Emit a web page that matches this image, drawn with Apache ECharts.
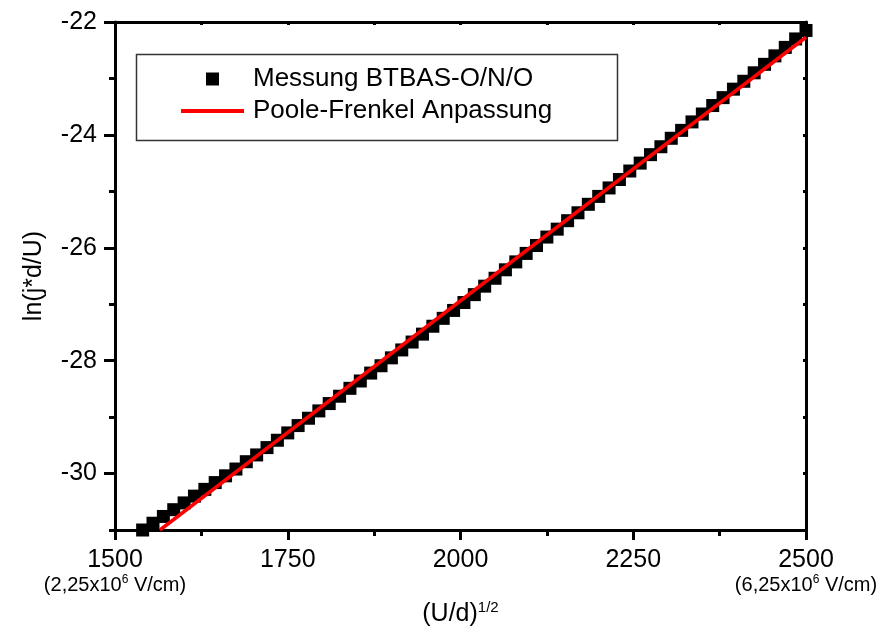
<!DOCTYPE html>
<html>
<head>
<meta charset="utf-8">
<script src="https://cdn.jsdelivr.net/npm/echarts@6/dist/echarts.min.js"></script>
<style>
  html, body { margin: 0; padding: 0; background: #fff; }
  #chart { width: 886px; height: 630px; }
</style>
</head>
<body>
<div id="chart"></div>
<script>
const measX = [1540, 1555, 1570, 1585, 1600, 1615, 1630, 1645, 1660, 1675,
  1690, 1705, 1720, 1735, 1750, 1765, 1780, 1795, 1810, 1825,
  1840, 1855, 1870, 1885, 1900, 1915, 1930, 1945, 1960, 1975,
  1990, 2005, 2020, 2035, 2050, 2065, 2080, 2095, 2110, 2125,
  2140, 2155, 2170, 2185, 2200, 2215, 2230, 2245, 2260, 2275,
  2290, 2305, 2320, 2335, 2350, 2365, 2380, 2395, 2410, 2425,
  2440, 2455, 2470, 2485, 2500]
const measY = [-31.00, -30.88, -30.76, -30.64, -30.52, -30.40, -30.28, -30.16, -30.04, -29.92,
  -29.79, -29.67, -29.54, -29.41, -29.28, -29.15, -29.02, -28.89, -28.76, -28.63,
  -28.49, -28.36, -28.22, -28.09, -27.95, -27.81, -27.67, -27.53, -27.39, -27.25,
  -27.11, -26.97, -26.83, -26.68, -26.54, -26.39, -26.25, -26.10, -25.96, -25.81,
  -25.67, -25.52, -25.38, -25.23, -25.09, -24.94, -24.79, -24.64, -24.50, -24.35,
  -24.21, -24.06, -23.92, -23.77, -23.63, -23.48, -23.34, -23.19, -23.05, -22.90,
  -22.75, -22.60, -22.45, -22.30, -22.15]

// Poole-Frenkel Anpassung (Gerade)
const fitX = [1565, 2500]
const fitY = [-31.0, -22.27]

// Achsen
const yMajorTicks = [-30, -28, -26, -24, -22]
const yMinorTicks = [-31, -29, -27, -25, -23]
const xSubLabels = { 1500: '2,25', 2500: '6,25' }

const FONT = '"Liberation Sans", Arial, sans-serif'
const chart = echarts.init(document.getElementById('chart'))

const axisLine = { show: true, onZero: false, lineStyle: { color: '#000', width: 3 } }

chart.setOption({
  animation: false,
  backgroundColor: '#fff',
  textStyle: { fontFamily: FONT, color: '#000' },
  grid: { left: 115, right: 80, top: 22, bottom: 100, outerBoundsMode: 'none' },
  legend: [
    {
      left: 206, top: 66, padding: 0, selectedMode: false,
      itemWidth: 13, itemHeight: 13,
      data: [{ name: 'Messung BTBAS-O/N/O', icon: 'rect', itemStyle: { color: '#000', opacity: 1 } }],
      textStyle: { fontFamily: FONT, fontSize: 26, color: '#000', lineHeight: 26, padding: [0, 0, 0, 29] }
    },
    {
      left: 181, top: 98, padding: 0, selectedMode: false,
      itemWidth: 63, itemHeight: 4,
      data: [{ name: 'Poole-Frenkel Anpassung', icon: 'rect' }],
      textStyle: { fontFamily: FONT, fontSize: 26, color: '#000', lineHeight: 26, padding: [0, 0, 0, 4] }
    }
  ],
  graphic: [{
    type: 'rect', left: 134, top: 52, z: 50,
    shape: { width: 481, height: 86 },
    style: { fill: 'none', stroke: '#333', lineWidth: 1.5 }
  }],
  xAxis: [
    {
      type: 'value', position: 'bottom', min: 1500, max: 2500, interval: 250,
      axisLine,
      splitLine: { show: false },
      axisTick: { length: 10, lineStyle: { color: '#000', width: 3 } },
      minorTick: { show: true, splitNumber: 2, length: 6, lineStyle: { color: '#000', width: 3 } },
      axisLabel: {
        margin: 16, fontSize: 25, color: '#000', fontFamily: FONT,
        formatter: (v) => xSubLabels[v]
          ? `{n|${v}}\n{s|(${xSubLabels[v]}x10}{sup|6}{s| V/cm)}`
          : `{n|${v}}`,
        rich: {
          n: { fontSize: 25, lineHeight: 28, fontFamily: FONT, color: '#000' },
          s: { fontSize: 20, lineHeight: 22, fontFamily: FONT, color: '#000' },
          sup: { fontSize: 12, lineHeight: 22, verticalAlign: 'top', fontFamily: FONT, color: '#000' }
        }
      },
      name: '{b|(U/d)}{sup|1/2}',
      nameLocation: 'middle', nameGap: 66,
      nameTextStyle: {
        rich: {
          b: { fontSize: 25, lineHeight: 28, fontFamily: FONT, color: '#000' },
          sup: { fontSize: 15, lineHeight: 28, verticalAlign: 'top', fontFamily: FONT, color: '#000' }
        }
      }
    },
    {
      type: 'value', position: 'top', min: 1500, max: 2500, interval: 125,
      axisLine,
      splitLine: { show: false },
      axisTick: { inside: true, length: 3, lineStyle: { color: '#000', width: 3 } },
      axisLabel: { show: false }
    }
  ],
  yAxis: [
    {
      type: 'value', position: 'left', min: -31, max: -22, interval: 1,
      axisLine,
      splitLine: { show: false },
      axisTick: { customValues: yMajorTicks, length: 11, lineStyle: { color: '#000', width: 3 } },
      axisLabel: { customValues: yMajorTicks, margin: 18, fontSize: 25, color: '#000', fontFamily: FONT },
      name: 'ln(j*d/U)',
      nameLocation: 'middle', nameGap: 68, nameRotate: 90,
      nameTextStyle: { fontSize: 25, color: '#000', fontFamily: FONT }
    },
    {
      type: 'value', position: 'left', min: -31, max: -22, interval: 1,
      axisLine: { show: false },
      splitLine: { show: false },
      axisTick: { customValues: yMinorTicks, length: 6, lineStyle: { color: '#000', width: 3 } },
      axisLabel: { show: false }
    },
    {
      type: 'value', position: 'right', min: -31, max: -22, interval: 1,
      axisLine,
      splitLine: { show: false },
      axisTick: { inside: true, length: 3, lineStyle: { color: '#000', width: 3 } },
      axisLabel: { show: false }
    }
  ],
  series: [
    {
      name: 'Messung BTBAS-O/N/O',
      type: 'scatter',
      symbol: 'rect',
      symbolSize: 13,
      clip: true,
      itemStyle: { color: '#000', opacity: 1 },
      data: measX.map((x, i) => [x, measY[i]]),
      z: 2
    },
    {
      name: 'Poole-Frenkel Anpassung',
      type: 'line',
      symbol: 'none',
      clip: true,
      lineStyle: { color: '#ff0000', width: 3.5 },
      itemStyle: { color: '#ff0000' },
      data: fitX.map((x, i) => [x, fitY[i]]),
      z: 3
    }
  ]
})
</script>
</body>
</html>
